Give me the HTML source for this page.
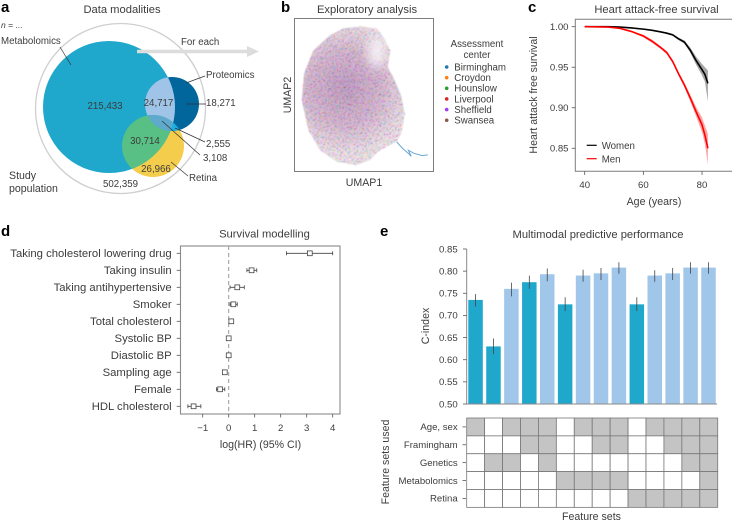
<!DOCTYPE html>
<html lang="en">
<head>
<meta charset="utf-8">
<title>Multimodal survival figure</title>
<style>
html,body{margin:0;padding:0;background:#fff;width:732px;height:521px;overflow:hidden}
svg{display:block;font-family:"Liberation Sans",sans-serif;fill:#3c3c3c}
.letter{font-size:15px;font-weight:700;fill:#000}
.title{font-size:11.2px;text-anchor:middle}
.lab{font-size:9.7px}
.tick{font-size:9.6px}
.axis{font-size:10.6px;text-anchor:middle}
.lead{stroke:#333;stroke-width:.7;fill:none}
</style>
</head>
<body>
<svg id="fig" width="732" height="521" viewBox="0 0 732 521" xmlns="http://www.w3.org/2000/svg">
<defs>
<clipPath id="clip-m"><circle cx="109" cy="107" r="66"/></clipPath>
<clipPath id="clip-p"><circle cx="172" cy="104" r="27"/></clipPath>
<clipPath id="clip-r"><circle cx="153" cy="146" r="31"/></clipPath>
<radialGradient id="umap-fill" gradientUnits="userSpaceOnUse" cx="345" cy="88" r="66">
<stop offset="0" stop-color="#c9a3cc"/><stop offset=".55" stop-color="#dcbdd8"/><stop offset="1" stop-color="#f2e6ef"/>
</radialGradient>
<filter id="umap-noise" x="-2%" y="-2%" width="104%" height="104%" color-interpolation-filters="sRGB">
<feTurbulence type="fractalNoise" baseFrequency="0.7" numOctaves="2" seed="4" result="n"/>
<feColorMatrix in="n" type="matrix" values="2.4 0 0 0 -.1  0 2.4 0 0 -.1  0 0 2.4 0 -.1  0 0 0 0 1" result="c"/>
<feBlend in="c" in2="SourceGraphic" mode="multiply" result="b"/>
<feComposite in="b" in2="SourceGraphic" operator="in" result="shape"/>
<feGaussianBlur in="shape" stdDeviation="0.5"/>
</filter>
<filter id="soft" x="-30%" y="-30%" width="160%" height="160%"><feGaussianBlur stdDeviation="5"/></filter>
<clipPath id="umap-clip"><rect x="295" y="18" width="138" height="154"/></clipPath>
<clipPath id="c-clip"><rect x="575" y="19" width="157" height="153"/></clipPath>
</defs>

<!-- Panel a -->
<g>
<text class="letter" x="1" y="12">a</text>
<text class="title" x="122" y="13">Data modalities</text>
<text x="1" y="28" font-size="8.5"><tspan font-style="italic">n</tspan> = ...</text>
<circle cx="120.5" cy="108.5" r="85" fill="none" stroke="#cfcfcf" stroke-width="1.3"/>
<circle cx="153" cy="146" r="31" fill="#f4cd4c"/>
<circle cx="172" cy="104" r="27" fill="#01669b"/>
<circle cx="109" cy="107" r="66" fill="#1fa7cc"/>
<circle cx="172" cy="104" r="27" fill="#a0c4e8" clip-path="url(#clip-m)"/>
<circle cx="153" cy="146" r="31" fill="#58c084" clip-path="url(#clip-m)"/>
<circle cx="153" cy="146" r="31" fill="#1cb0e0" clip-path="url(#clip-p)"/>
<g clip-path="url(#clip-m)"><circle cx="153" cy="146" r="31" fill="#5fa9cc" clip-path="url(#clip-p)"/></g>
<path d="M137 51.5H247" stroke="#dcdcdc" stroke-width="3.6" fill="none"/>
<path d="M247 46L259 51.5L247 57Z" fill="#dcdcdc"/>
<text class="lab" x="181" y="45">For each</text>
<text class="lab" x="1" y="44">Metabolomics</text>
<path class="lead" d="M60 47L71 65"/>
<text class="lab" x="206" y="78">Proteomics</text>
<path class="lead" d="M186 83L205 76"/>
<text class="lab" x="206" y="106">18,271</text>
<path class="lead" d="M186 104H206"/>
<text class="lab" x="105" y="109" text-anchor="middle">215,433</text>
<text class="lab" x="158.5" y="106" text-anchor="middle">24,717</text>
<text class="lab" x="145" y="144" text-anchor="middle">30,714</text>
<text class="lab" x="156" y="172" text-anchor="middle">26,966</text>
<text class="lab" x="206" y="147">2,555</text>
<path class="lead" d="M175 128L205 142"/>
<text class="lab" x="203" y="161">3,108</text>
<path class="lead" d="M162 121L200 155"/>
<text class="lab" x="189" y="181">Retina</text>
<path class="lead" d="M171 162L188 176"/>
<text x="9" y="179" font-size="10.6">Study</text>
<text x="9" y="192" font-size="10.6">population</text>
<text class="lab" x="103" y="187">502,359</text>
</g>

<!-- Panel b static -->
<g id="umap">
<text class="letter" x="281" y="12">b</text>
<text class="title" x="367" y="13">Exploratory analysis</text>
<text class="axis" transform="translate(291,95) rotate(-90)">UMAP2</text>
<text class="axis" x="364" y="186">UMAP1</text>
<text class="lab" x="477" y="47" text-anchor="middle">Assessment</text>
<text class="lab" x="477" y="58" text-anchor="middle">center</text>
</g>

<!-- Panel c static -->
<g id="surv">
<text class="letter" x="528" y="12">c</text>
<text class="title" x="656.5" y="13">Heart attack-free survival</text>
<text class="axis" transform="translate(537,95) rotate(-90)">Heart attack free survival</text>
<text class="axis" x="654" y="205">Age (years)</text>
</g>

<!-- Panel d static -->
<g id="forest">
<text class="letter" x="1" y="236">d</text>
<text class="title" x="264.5" y="237.5">Survival modelling</text>
<text class="axis" x="260.5" y="448">log(HR) (95% CI)</text>
</g>

<!-- Panel e static -->
<g id="bars">
<text class="letter" x="380" y="236">e</text>
<text class="title" x="598" y="238">Multimodal predictive performance</text>
<text class="axis" transform="translate(429,326) rotate(-90)">C-index</text>
<text class="axis" transform="translate(389,462) rotate(-90)">Feature sets used</text>
<text class="axis" x="591.5" y="520">Feature sets</text>
</g>
</svg>

<script>
/* Panel b: the point cloud is summarised by its outline (UMAP units, 0-100) */
const umapOutline1 = [47,59,64,69,67,72,77,79.5,77,73.5,61.5,54,44.6,30,18,9.6,4.8,6.5,13,25,35];
const umapOutline2 = [95,93.5,88,79,68.5,60,49,38,25,19.5,14,7.6,4.3,6.5,14,27,46.7,64,79,89,93.5];
const umapTail1 = [73.5,78,82,84,82,86,92,96];
const umapTail2 = [19.5,15,12,10,14,12,10.5,11];
const centers = ['Birmingham','Croydon','Hounslow','Liverpool','Sheffield','Swansea'];
const centerColors = ['#1f77b4','#ff7f0e','#2ca02c','#d62728','#a040f0','#8c564b'];

/* Panel c */
const ages = [40,48,52,56,60,63,66,68,70,72,74,76,78,80,81,82];
const women = [1,1,.9995,.9985,.997,.9955,.9935,.992,.99,.985,.981,.971,.958,.947,.941,.93];
const womenLo = [1,1,.9993,.9982,.9966,.995,.993,.991,.9888,.9835,.979,.968,.953,.94,.932,.908];
const womenHi = [1,1,.9997,.9988,.9974,.996,.994,.993,.9912,.9865,.983,.974,.963,.954,.95,.946];
const men = [1,.9995,.998,.994,.9885,.982,.974,.968,.957,.942,.928,.912,.895,.879,.866,.85];
const menLo = [1,.9993,.9975,.9932,.987,.98,.9722,.966,.955,.94,.925,.908,.889,.87,.855,.83];
const menHi = [1,.9997,.9985,.9948,.99,.984,.9758,.97,.959,.944,.931,.916,.901,.888,.878,.868];
const survYTicks = [1.00,.95,.90,.85];
const survXTicks = [40,60,80];

/* Panel d */
const covariates = ['Taking cholesterol lowering drug','Taking insulin','Taking antihypertensive','Smoker','Total cholesterol','Systolic BP','Diastolic BP','Sampling age','Female','HDL cholesterol'];
const logHR = [3.12,.88,.33,.18,.1,0,0,-.15,-.33,-1.35];
const logHRLo = [2.22,.7,.05,.05,.03,-.05,-.03,-.22,-.47,-1.57];
const logHRHi = [4.0,1.08,.6,.33,.17,.07,.05,-.07,-.15,-1.07];
const forestTicks = [-1,0,1,2,3,4];

/* Panel e */
const cIndex = [.735,.63,.76,.775,.793,.725,.79,.795,.808,.725,.79,.795,.808,.808];
const cIndexLo = [.72,.613,.743,.76,.777,.71,.776,.78,.794,.71,.776,.78,.794,.794];
const cIndexHi = [.748,.648,.774,.79,.806,.741,.803,.807,.82,.741,.802,.807,.82,.82];
const cIndexTicks = [.85,.80,.75,.70,.65,.60,.55,.50];
const singleModality = [1,1,0,1,0,1,0,0,0,1,0,0,0,0];
const featureSets = ['Age, sex','Framingham','Genetics','Metabolomics','Retina'];
const ageSexUsed = [1,0,1,1,1,0,1,1,1,0,1,1,1,1];
const framinghamUsed = [0,0,0,1,1,0,0,1,1,0,0,1,1,1];
const geneticsUsed = [0,1,1,0,1,0,0,0,0,0,0,0,1,1];
const metabolomicsUsed = [0,0,0,0,0,1,1,1,1,0,0,0,0,1];
const retinaUsed = [0,0,0,0,0,0,0,0,0,1,1,1,1,1];

const NS = 'http://www.w3.org/2000/svg';
function make(parent, tag, attrs, txt) {
  const n = document.createElementNS(NS, tag);
  for (const k in attrs) n.setAttribute(k, attrs[k]);
  if (txt !== undefined) n.textContent = txt;
  parent.appendChild(n);
  return n;
}
let el;

/* ---------- Panel b ---------- */
const umap = document.getElementById('umap');
const ux = v => 295 + v * 1.383;
const uy = v => 171.7 - v * 1.533;
el = make(umap, 'rect', {x:294.5, y:18.5, width:139, height:153, fill:'#fff', stroke:'#7d7d7d', 'stroke-width':1});


el = make(umap, 'polygon', {points: umapOutline1.map((v,i) => ux(v)+','+uy(umapOutline2[i])).join(' '), fill:'url(#umap-fill)', filter:'url(#umap-noise)'});


el = make(umap, 'ellipse', {cx:ux(59), cy:uy(78), rx:9, ry:16, fill:'#fff', opacity:.7, filter:'url(#soft)', 'clip-path':'url(#umap-clip)'});


el = make(umap, 'polyline', {points: umapTail1.map((v,i) => ux(v)+','+uy(umapTail2[i])).join(' '), fill:'none', stroke:'#6aa5d4', 'stroke-width':1});


centers.forEach((c,i) => {
  const cy = 67 + i * 10.65;
  el = make(umap, 'circle', {cx:446.7, cy:cy, r:1.8, fill:centerColors[i]});
  
  
  el = make(umap, 'text', {x:454.3, y:cy+3.4, class:'lab'}, c);
  
  
});

/* ---------- Panel c ---------- */
const surv = document.getElementById('surv');
const sx = a => 584.7 + (a - 40) * 2.933;
const sy = s => 26.7 + (1 - s) * 810.5;
el = make(surv, 'path', {d:'M732 19.3H575.3V171.3H732', fill:'none', stroke:'#7d7d7d', 'stroke-width':1});


survYTicks.forEach(t => {
  el = make(surv, 'line', {x1:571.7, x2:575.3, y1:sy(t), y2:sy(t), stroke:'#555', 'stroke-width':.8});
  
  
  el = make(surv, 'text', {x:568.5, y:sy(t)+3.3, class:'tick', 'text-anchor':'end'}, t.toFixed(2));
  
  
});
survXTicks.forEach(t => {
  el = make(surv, 'line', {x1:sx(t), x2:sx(t), y1:171.3, y2:175, stroke:'#555', 'stroke-width':.8});
  
  
  el = make(surv, 'text', {x:sx(t), y:188, class:'tick', 'text-anchor':'middle'}, t);
  
  
});
function band(lo, hi) {
  return ages.map((a,i) => sx(a)+','+sy(hi[i])).concat(ages.map((a,i) => sx(a)+','+sy(lo[i])).reverse()).join(' ');
}
function curve(vals) {
  return ages.map((a,i) => sx(a)+','+sy(vals[i])).join(' ');
}
el = make(surv, 'polygon', {points:band(womenLo,womenHi), fill:'#000', opacity:.35});


el = make(surv, 'polygon', {points:band(menLo,menHi), fill:'#f00', opacity:.35});


el = make(surv, 'polyline', {points:curve(women), fill:'none', stroke:'#000', 'stroke-width':1.6});


el = make(surv, 'polyline', {points:curve(men), fill:'none', stroke:'#f00', 'stroke-width':1.6});


el = make(surv, 'line', {x1:586.7, x2:596.7, y1:145.3, y2:145.3, stroke:'#000', 'stroke-width':1.2});


el = make(surv, 'text', {x:601.7, y:149, class:'lab'}, 'Women');


el = make(surv, 'line', {x1:586.7, x2:596.7, y1:158.7, y2:158.7, stroke:'#f00', 'stroke-width':1.2});


el = make(surv, 'text', {x:601.7, y:162.3, class:'lab'}, 'Men');



/* ---------- Panel d ---------- */
const forest = document.getElementById('forest');
const fx = v => 228.7 + v * 26;
const fy = i => 253.3 + i * 17;
el = make(forest, 'rect', {x:180.5, y:246, width:159.5, height:168, fill:'none', stroke:'#8a8a8a', 'stroke-width':1.1});


el = make(forest, 'line', {x1:fx(0), x2:fx(0), y1:246, y2:414, stroke:'#9a9a9a', 'stroke-width':1, 'stroke-dasharray':'4 3'});


forestTicks.forEach(t => {
  el = make(forest, 'line', {x1:fx(t), x2:fx(t), y1:414, y2:417.5, stroke:'#555', 'stroke-width':.8});
  
  
  el = make(forest, 'text', {x:fx(t), y:431, class:'tick', 'text-anchor':'middle'}, t < 0 ? '\u2212' + (-t) : t);
  
  
});
covariates.forEach((c,i) => {
  const y = fy(i);
  el = make(forest, 'line', {x1:176.7, x2:180.3, y1:y, y2:y, stroke:'#555', 'stroke-width':.8});
  
  
  el = make(forest, 'text', {x:171.7, y:y+3.8, 'font-size':11.3, 'text-anchor':'end'}, c);
  
  
  el = make(forest, 'path', {d:'M'+fx(logHRLo[i])+' '+(y-2)+'v4M'+fx(logHRLo[i])+' '+y+'H'+fx(logHRHi[i])+'M'+fx(logHRHi[i])+' '+(y-2)+'v4', fill:'none', stroke:'#444', 'stroke-width':.8});
  
  
  el = make(forest, 'rect', {x:fx(logHR[i])-2.4, y:y-2.4, width:4.8, height:4.8, fill:'#fff', stroke:'#444', 'stroke-width':.8});
  
  
});

/* ---------- Panel e ---------- */
const bars = document.getElementById('bars');
const by = v => 404 - (v - .5) * 442.9;
const bx = i => 468.3 + i * 17.92;
cIndex.forEach((v,i) => {
  el = make(bars, 'rect', {x:bx(i), y:by(v), width:14.5, height:by(.5)-by(v), fill:singleModality[i] ? '#1fa7cc' : '#a0c6ea'});
  
  
  el = make(bars, 'line', {x1:bx(i)+7.25, x2:bx(i)+7.25, y1:by(cIndexLo[i]), y2:by(cIndexHi[i]), stroke:'#444', 'stroke-width':.8});
  
  
});
el = make(bars, 'path', {d:'M466.7 249V404H717', fill:'none', stroke:'#8a8a8a', 'stroke-width':1});


cIndexTicks.forEach(t => {
  el = make(bars, 'line', {x1:463, x2:466.7, y1:by(t), y2:by(t), stroke:'#555', 'stroke-width':.8});
  
  
  el = make(bars, 'text', {x:457.7, y:by(t)+3.3, class:'tick', 'text-anchor':'end'}, t.toFixed(2));
  
  
});
const usedRows = [ageSexUsed, framinghamUsed, geneticsUsed, metabolomicsUsed, retinaUsed];
const hx = i => 466.7 + i * 17.93;
const hy = r => 418 + r * 17.87;
usedRows.forEach((row,r) => {
  row.forEach((u,i) => {
    el = make(bars, 'rect', {x:hx(i), y:hy(r), width:17.93, height:17.87, fill:u ? '#c4c4c4' : '#fff', stroke:'#777', 'stroke-width':.8});
    
    
  });
  el = make(bars, 'line', {x1:462.5, x2:466, y1:hy(r)+8.9, y2:hy(r)+8.9, stroke:'#555', 'stroke-width':.8});
  
  
  el = make(bars, 'text', {x:457.7, y:hy(r)+12.2, class:'tick', 'text-anchor':'end'}, featureSets[r]);
  
  
});
</script>
</body>
</html>
